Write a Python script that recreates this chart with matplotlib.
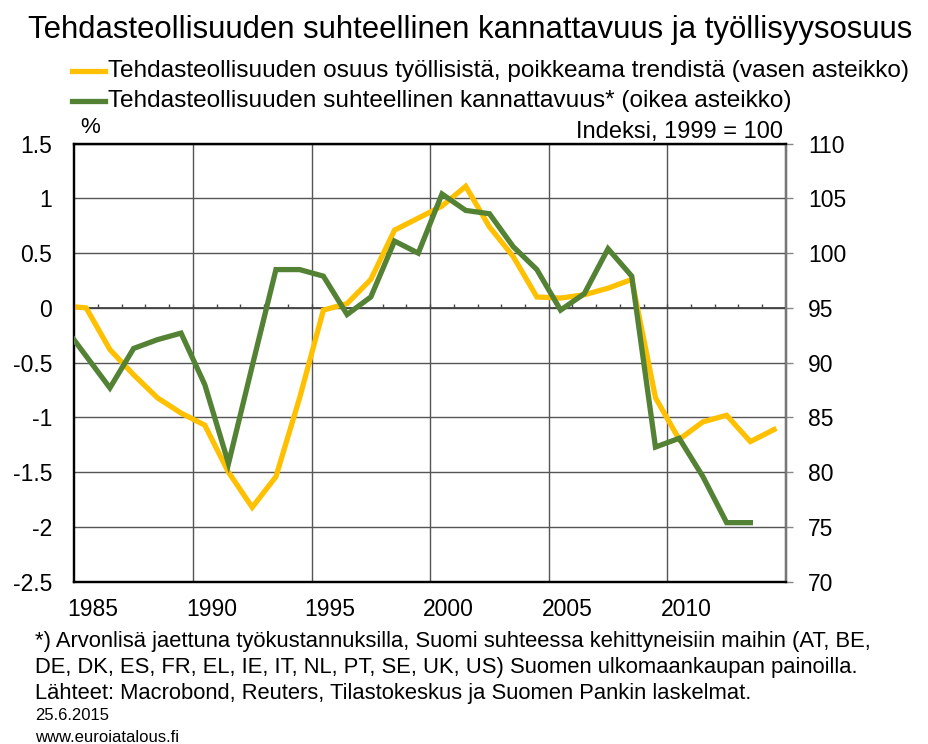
import numpy as np
import matplotlib.pyplot as plt
from matplotlib.transforms import ScaledTranslation

plt.rcParams['font.family'] = ['Liberation Sans', 'DejaVu Sans']

# Data (annual, plotted at mid-year) -------------------------------------------
years = np.arange(1984, 2015)
osuus = [0.02, 0.00, -0.38, -0.61, -0.82, -0.96, -1.07, -1.50, -1.82, -1.54,
         -0.82, -0.02, 0.04, 0.26, 0.71, 0.82, 0.93, 1.11, 0.74, 0.47,
         0.10, 0.09, 0.12, 0.18, 0.26, -0.82, -1.20, -1.04, -0.98, -1.22, -1.11]
kannattavuus = [93.5, 90.6, 87.7, 91.3, 92.1, 92.7, 88.0, 80.8, 89.7, 98.5,
                98.5, 97.9, 94.4, 96.0, 101.1, 100.0, 105.4, 103.9, 103.6, 100.6,
                98.5, 94.8, 96.3, 100.4, 97.9, 82.3, 83.1, 79.6, 75.4, 75.4, np.nan]
label_years = [1985, 1990, 1995, 2000, 2005, 2010]
left_ticks = [1.5, 1, 0.5, 0, -0.5, -1, -1.5, -2, -2.5]
left_labels = ['1.5', '1', '0.5', '0', '-0.5', '-1', '-1.5', '-2', '-2.5']
right_ticks = [110, 105, 100, 95, 90, 85, 80, 75, 70]

yellow = '#FFC000'
green = '#548235'

fig = plt.figure(figsize=(9.29, 7.44), dpi=100)
ax = fig.add_axes([0.080, 0.218, 0.766, 0.589])
ax2 = ax.twinx()

x = years + 0.5
ax.plot(x, osuus, color=yellow, lw=3.8, solid_joinstyle='miter', zorder=3)
ax2.plot(x, kannattavuus, color=green, lw=3.8, solid_joinstyle='miter', zorder=3)

ax.set_xlim(1985, 2015)
ax.set_ylim(-2.5, 1.5)
ax2.set_ylim(70, 110)

# grid
for yy in left_ticks:
    ax.axhline(yy, color='#555555', lw=1.0, zorder=1)
for xx in label_years[1:]:
    ax.axvline(xx, color='#555555', lw=1.0, zorder=1)
ax.axhline(0, color='#444444', lw=1.3, zorder=1)
ax.vlines(np.arange(1986, 2015), 0, 0.035, color='#444444', lw=1.0, zorder=1)

for s in ax.spines.values():
    s.set_linewidth(1.6)
for s in ax2.spines.values():
    s.set_linewidth(1.6)
ax2.spines['right'].set_color('#777777')

ax.set_yticks(left_ticks)
ax.set_yticklabels(left_labels, fontsize=16.5)
ax.tick_params(axis='y', length=0, pad=16)

ax2.set_yticks(right_ticks)
ax2.set_yticklabels([str(v) for v in right_ticks], fontsize=16.5)
ax2.tick_params(axis='y', length=5, width=1, pad=11, colors='#888888', labelcolor='black')

ax.set_xticks(label_years)
ax.set_xticklabels([str(v) for v in label_years], fontsize=16.5)
ax.tick_params(axis='x', length=0, pad=12)
for lab in ax.get_xticklabels():
    lab.set_transform(lab.get_transform() + ScaledTranslation(0.185, 0, fig.dpi_scale_trans))

# texts
fig.text(0.030, 0.960, 'Tehdasteollisuuden suhteellinen kannattavuus ja työllisyysosuus',
         fontsize=22.4, va='center', ha='left')
fig.lines.append(plt.Line2D([0.078, 0.113], [0.905, 0.905], color=yellow, lw=3.8,
                            transform=fig.transFigure))
fig.lines.append(plt.Line2D([0.078, 0.113], [0.864, 0.864], color=green, lw=3.8,
                            transform=fig.transFigure))
fig.text(0.116, 0.905, 'Tehdasteollisuuden osuus työllisistä, poikkeama trendistä (vasen asteikko)',
         fontsize=17.6, va='center', ha='left')
fig.text(0.116, 0.864, 'Tehdasteollisuuden suhteellinen kannattavuus* (oikea asteikko)',
         fontsize=17.6, va='center', ha='left')
fig.text(0.086, 0.829, '%', fontsize=16, va='center', ha='left')
fig.text(0.843, 0.822, 'Indeksi, 1999 = 100', fontsize=17, va='center', ha='right')

foot = ['*) Arvonlisä jaettuna työkustannuksilla, Suomi suhteessa kehittyneisiin maihin (AT, BE,',
        'DE, DK, ES, FR, EL, IE, IT, NL, PT, SE, UK, US) Suomen ulkomaankaupan painoilla.',
        'Lähteet: Macrobond, Reuters, Tilastokeskus ja Suomen Pankin laskelmat.']
for i, line in enumerate(foot):
    fig.text(0.038, 1 - (642 + 26 * i) / 744, line, fontsize=15.8, va='center', ha='left')
fig.text(0.038, 1 - 715 / 744, '25.6.2015', fontsize=12, va='center', ha='left')
fig.text(0.038, 1 - 737 / 744, 'www.euroiatalous.fi', fontsize=12, va='center', ha='left')

fig.savefig('out.png', dpi=100)
